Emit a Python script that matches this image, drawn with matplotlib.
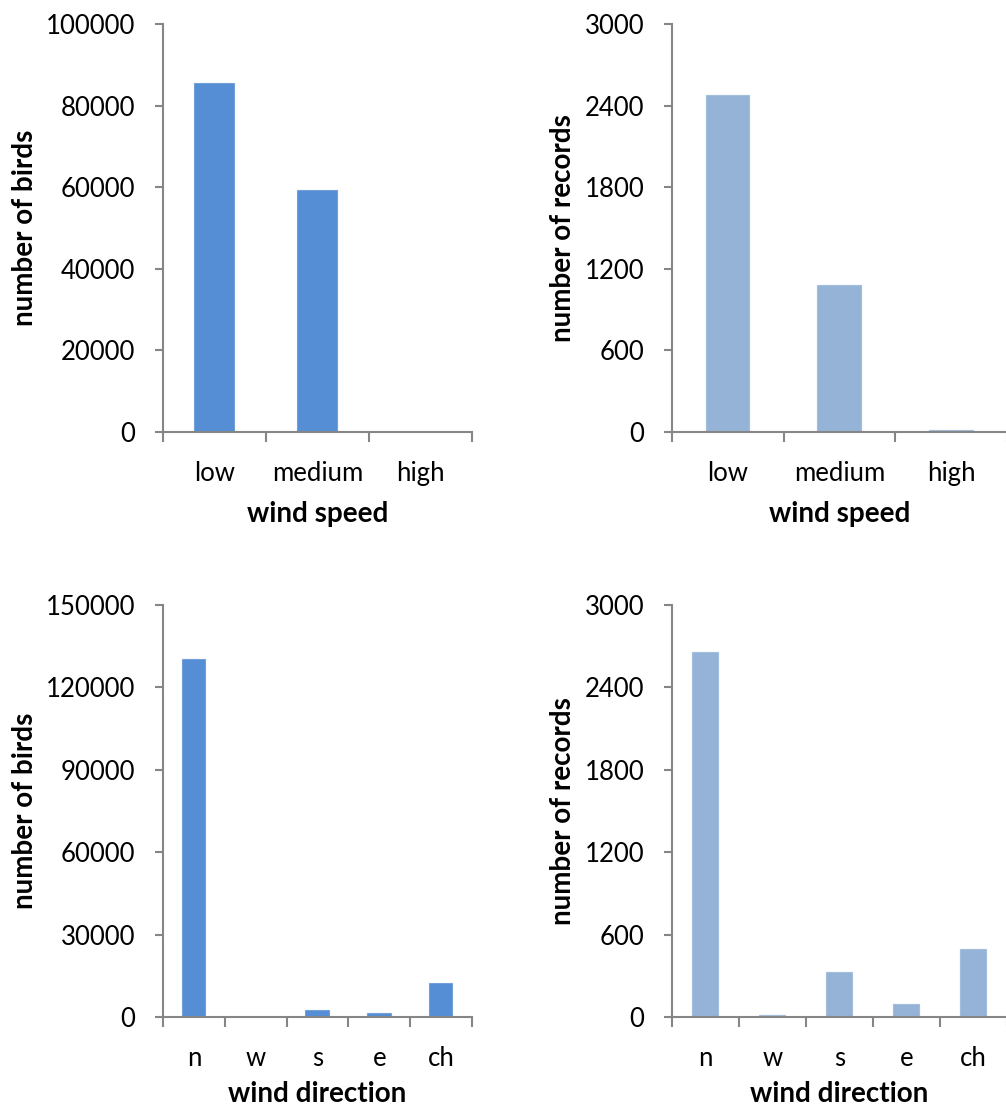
import numpy as np
import matplotlib
matplotlib.use('Agg')
from matplotlib import pyplot as plt

plt.rcParams['font.family'] = ['Lato', 'DejaVu Sans']

speed_cats = ['low', 'medium', 'high']
speed_birds = [85600, 59300, 0]
speed_records = [2477, 1083, 18]

dir_cats = ['n', 'w', 's', 'e', 'ch']
dir_birds = [130400, 0, 2500, 1500, 12300]
dir_records = [2659, 18, 326, 93, 494]

birds_color = '#558ED5'
records_color = '#95B3D7'
axis_color = '#868686'

W, H = 1006, 1106
fig = plt.figure(figsize=(W / 100, H / 100), dpi=100)


def box(l, r, t, b):
    return [l / W, (H - b) / H, (r - l) / W, (b - t) / H]


def panel(rect, cats, vals, color, ymax, step, ylab, xlab, ylab_x, xlab_y):
    ax = fig.add_axes(rect)
    x = np.arange(len(cats))
    ax.bar(x, vals, width=0.4, color=color, edgecolor='#dce6f2', linewidth=0.3)
    ax.set_xlim(-0.5, len(cats) - 0.5)
    ax.set_ylim(0, ymax)
    ax.set_yticks(np.arange(0, ymax + 1, step))
    ax.set_xticks(np.arange(len(cats) + 1) - 0.5)
    ax.set_xticklabels([])
    ax.set_xticks(x, minor=True)
    ax.set_xticklabels(cats, minor=True)
    for s in ['top', 'right']:
        ax.spines[s].set_visible(False)
    for s in ['left', 'bottom']:
        ax.spines[s].set_color(axis_color)
        ax.spines[s].set_linewidth(1.5)
        ax.spines[s].set_zorder(3)
    ax.tick_params(axis='y', direction='out', length=6, width=1.5, color=axis_color,
                   labelsize=18.5, pad=14)
    ax.tick_params(axis='x', which='major', direction='out', length=7, width=1.5,
                   color=axis_color)
    ax.tick_params(axis='x', which='minor', length=0, labelsize=18.5, pad=21)
    ax.set_ylabel(ylab, fontsize=20, fontweight='bold', va='center')
    ax.set_xlabel(xlab, fontsize=20, fontweight='bold', va='center')
    wpx = rect[2] * W
    hpx = rect[3] * H
    ax.yaxis.set_label_coords(-(rect[0] * W - ylab_x) / wpx, 0.5)
    ax.xaxis.set_label_coords(0.5, -xlab_y / hpx)
    return ax


panel(box(163, 472, 24, 432), speed_cats, speed_birds, birds_color, 100000, 20000,
      'number of birds', 'wind speed', 25, 82)
panel(box(672, 1007, 24, 432), speed_cats, speed_records, records_color, 3000, 600,
      'number of records', 'wind speed', 563, 82)
panel(box(163, 472, 605, 1017), dir_cats, dir_birds, birds_color, 150000, 30000,
      'number of birds', 'wind direction', 25, 77)
panel(box(672, 1007, 605, 1017), dir_cats, dir_records, records_color, 3000, 600,
      'number of records', 'wind direction', 563, 77)

fig.savefig('out.png', dpi=100)
